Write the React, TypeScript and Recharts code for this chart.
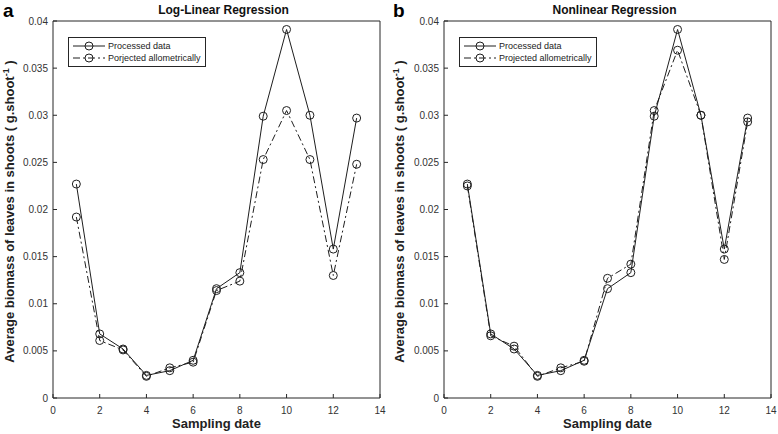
import React from 'react';
import { LineChart, Line, XAxis, YAxis, Legend, Label } from 'recharts';

const dates = [1, 2, 3, 4, 5, 6, 7, 8, 9, 10, 11, 12, 13];
const processed = [0.0227, 0.0068, 0.0052, 0.0024, 0.0029, 0.004, 0.0116, 0.0133, 0.0299, 0.0391, 0.03, 0.0158, 0.0297];
const projectedLogLinear = [0.0192, 0.0061, 0.0051, 0.0023, 0.0032, 0.0038, 0.0114, 0.0124, 0.0253, 0.0305, 0.0253, 0.013, 0.0248];
const projectedNonlinear = [0.0225, 0.0066, 0.0055, 0.0023, 0.0032, 0.0039, 0.0127, 0.0142, 0.0305, 0.0369, 0.03, 0.0147, 0.0293];

const xTicks = [0, 2, 4, 6, 8, 10, 12, 14];
const yTicks = [0, 0.005, 0.01, 0.015, 0.02, 0.025, 0.03, 0.035, 0.04];

const FONT = '"Liberation Sans", Arial, Helvetica, sans-serif';
const AXIS = '#262626';
const TICK_TEXT = '#333333';
const LINE = '#1e1e1e';
const DASHDOT = '7 3 2 3';

const BottomTick = (props: any) => {
  const { x, y, payload } = props;
  return (
    <g>
      <line x1={x} x2={x} y1={y} y2={y - 4} stroke={AXIS} />
      <text x={x} y={y + 16} textAnchor="middle" fontSize={10} fill={TICK_TEXT} fontFamily={FONT}>
        {payload.value}
      </text>
    </g>
  );
};

const LeftTick = (props: any) => {
  const { x, y, payload } = props;
  return (
    <g>
      <line x1={x} x2={x + 4} y1={y} y2={y} stroke={AXIS} />
      <text x={x - 5} y={y + 3.5} textAnchor="end" fontSize={10} fill={TICK_TEXT} fontFamily={FONT}>
        {payload.value}
      </text>
    </g>
  );
};

const LegendBox = ({ labels }: { labels: string[] }) => (
  <div
    style={{
      border: `1px solid ${AXIS}`,
      background: '#fff',
      padding: '2px 4px 2px 3px',
      fontFamily: FONT,
      fontSize: 9,
      color: '#222',
      lineHeight: '12px',
      whiteSpace: 'nowrap',
    }}
  >
    {labels.map((label, i) => (
      <div key={label} style={{ display: 'flex', alignItems: 'center' }}>
        <svg width={34} height={12}>
          <line
            x1={1}
            x2={33}
            y1={6}
            y2={6}
            stroke={LINE}
            strokeDasharray={i === 1 ? DASHDOT : undefined}
          />
          <circle cx={17} cy={6} r={4} fill="none" stroke={LINE} />
        </svg>
        <span style={{ marginLeft: 2 }}>{label}</span>
      </div>
    ))}
  </div>
);

interface PanelProps {
  letter: string;
  title: string;
  projected: number[];
  legendLabels: string[];
  left: number;
  width: number;
  yAxisWidth: number;
  rightMargin: number;
}

const Panel = ({ letter, title, projected, legendLabels, left, width, yAxisWidth, rightMargin }: PanelProps) => {
  const data = dates.map((d, i) => ({ date: d, processed: processed[i], projected: projected[i] }));
  const plotCenter = yAxisWidth + (width - yAxisWidth - rightMargin) / 2;
  return (
    <div style={{ position: 'absolute', left, top: 0, width, height: 434 }}>
      <LineChart width={width} height={434} data={data} margin={{ top: 21, right: rightMargin, bottom: 0, left: 0 }}>
        <XAxis
          dataKey="date"
          type="number"
          domain={[0, 14]}
          ticks={xTicks}
          tickSize={0}
          tickMargin={0}
          tickLine={false}
          tick={<BottomTick />}
          height={36}
          stroke={AXIS}
          interval={0}
        >
          <Label
            content={(p: any) => (
              <text
                x={p.viewBox.x + p.viewBox.width / 2}
                y={p.viewBox.y + 30}
                textAnchor="middle"
                fontSize={13}
                fontWeight="bold"
                fill="#222"
                fontFamily={FONT}
              >
                Sampling date
              </text>
            )}
          />
        </XAxis>
        <XAxis
          xAxisId="top"
          orientation="top"
          dataKey="date"
          type="number"
          domain={[0, 14]}
          ticks={xTicks}
          tick={false}
          tickSize={4}
          mirror
          height={1}
          stroke={AXIS}
          interval={0}
        />
        <YAxis
          type="number"
          domain={[0, 0.04]}
          ticks={yTicks}
          tickSize={0}
          tickMargin={0}
          tickLine={false}
          tick={<LeftTick />}
          width={yAxisWidth}
          stroke={AXIS}
          interval={0}
        >
          <Label
            content={(p: any) => {
              const cx = p.viewBox.x + 14;
              const cy = p.viewBox.y + p.viewBox.height / 2 + 2;
              return (
                <text
                  x={cx}
                  y={cy}
                  transform={`rotate(-90 ${cx} ${cy})`}
                  textAnchor="middle"
                  fontSize={13}
                  fontWeight="bold"
                  fill="#222"
                  fontFamily={FONT}
                >
                  Average biomass of leaves in shoots ( g.shoot
                  <tspan fontSize={9} dy={-5}>-1</tspan>
                  <tspan dy={5}> )</tspan>
                </text>
              );
            }}
          />
        </YAxis>
        <YAxis
          yAxisId="right"
          orientation="right"
          type="number"
          domain={[0, 0.04]}
          ticks={yTicks}
          tick={false}
          tickSize={4}
          mirror
          width={1}
          stroke={AXIS}
          interval={0}
        />
        <Legend
          layout="horizontal"
          verticalAlign="middle"
          align="center"
          wrapperStyle={{ left: yAxisWidth + 15, top: 37, width: 'auto' }}
          content={() => <LegendBox labels={legendLabels} />}
        />
        <Line
          dataKey="processed"
          stroke={LINE}
          strokeWidth={1}
          dot={{ r: 4, stroke: LINE, fill: 'none', strokeWidth: 1 }}
          isAnimationActive={false}
        />
        <Line
          dataKey="projected"
          stroke={LINE}
          strokeWidth={1}
          strokeDasharray={DASHDOT}
          dot={{ r: 4, stroke: LINE, fill: 'none', strokeWidth: 1, strokeDasharray: '' }}
          isAnimationActive={false}
        />
      </LineChart>
      <div
        style={{
          position: 'absolute',
          left: plotCenter + 7,
          top: 3,
          transform: 'translateX(-50%)',
          fontFamily: FONT,
          fontSize: 12,
          fontWeight: 'bold',
          color: '#111',
          whiteSpace: 'nowrap',
        }}
      >
        {title}
      </div>
      <div
        style={{
          position: 'absolute',
          left: 3,
          top: 0,
          fontFamily: FONT,
          fontSize: 19,
          fontWeight: 'bold',
          color: '#000',
        }}
      >
        {letter}
      </div>
    </div>
  );
};

export default function App() {
  return (
    <div style={{ position: 'absolute', left: 0, top: 0, width: 778, height: 434, background: '#fff' }}>
      <Panel
        letter="a"
        title="Log-Linear Regression"
        projected={projectedLogLinear}
        legendLabels={['Processed data', 'Porjected allometrically']}
        left={0}
        width={390}
        yAxisWidth={53}
        rightMargin={10}
      />
      <Panel
        letter="b"
        title="Nonlinear Regression"
        projected={projectedNonlinear}
        legendLabels={['Processed data', 'Projected allometrically']}
        left={390}
        width={388}
        yAxisWidth={54}
        rightMargin={7}
      />
    </div>
  );
}
